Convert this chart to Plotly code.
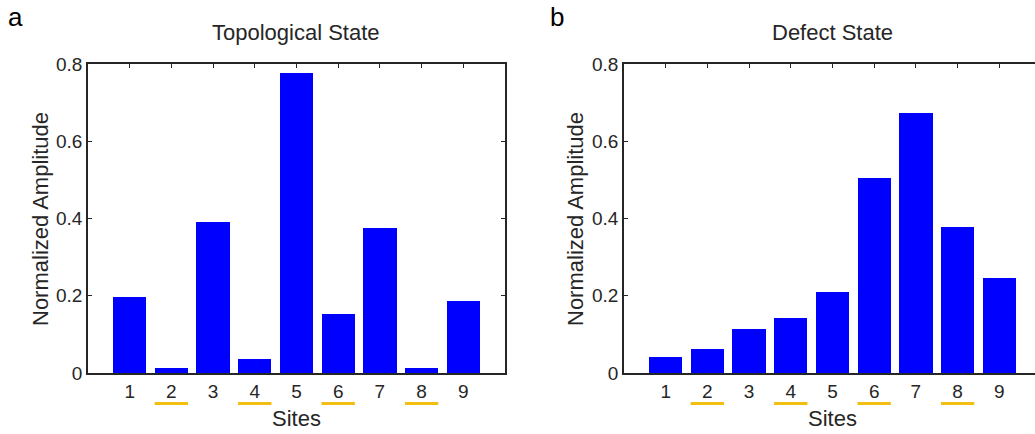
import plotly.graph_objects as go

# ---- data ----
sites = [1, 2, 3, 4, 5, 6, 7, 8, 9]
site_labels = ["1", "2", "3", "4", "5", "6", "7", "8", "9"]
topological_amp = [0.197, 0.013, 0.392, 0.035, 0.778, 0.152, 0.375, 0.013, 0.187]
defect_amp = [0.041, 0.063, 0.113, 0.142, 0.211, 0.506, 0.673, 0.379, 0.247]
marked_sites = [2, 4, 6, 8]
y_ticks = [0, 0.2, 0.4, 0.6, 0.8]
y_tick_labels = ["0", "0.2", "0.4", "0.6", "0.8"]

W, H = 1035, 434
TXT = "#262626"
BLUE = "#0000FF"
GOLD = "#F3BE12"
FONT = "Liberation Sans, Arial, sans-serif"

def px_x(p):
    return p / W

def px_y(p):
    return 1 - p / H

fig = go.Figure()
fig.add_trace(go.Bar(x=sites, y=topological_amp, width=0.8, marker=dict(color=BLUE, line=dict(width=0)),
                     xaxis="x", yaxis="y", showlegend=False))
fig.add_trace(go.Bar(x=sites, y=defect_amp, width=0.8, marker=dict(color=BLUE, line=dict(width=0)),
                     xaxis="x2", yaxis="y2", showlegend=False))

ydom = [px_y(373), px_y(64)]
common_x = dict(tickmode="array", tickvals=sites, ticktext=site_labels, ticks="inside", ticklen=4,
                tickcolor=TXT, tickwidth=1.2, showline=True, linecolor=TXT, linewidth=1.5,
                showgrid=False, zeroline=False, layer="below traces", automargin=False,
                tickfont=dict(family=FONT, size=19, color=TXT))
common_y = dict(tickmode="array", tickvals=y_ticks, ticktext=y_tick_labels, ticks="inside", ticklen=4,
                tickcolor=TXT, tickwidth=1.2, showline=True, linecolor=TXT, linewidth=1.5,
                showgrid=False, zeroline=False, range=[0, 0.8], domain=ydom, automargin=False,
                tickfont=dict(family=FONT, size=19, color=TXT))

fig.update_layout(
    width=W, height=H, autosize=False,
    margin=dict(l=0, r=0, t=0, b=0, pad=0, autoexpand=False),
    paper_bgcolor="white", plot_bgcolor="white",
    bargap=0,
    xaxis=dict(common_x, domain=[px_x(88), px_x(505)], range=[0, 10], mirror="ticks", anchor="y"),
    yaxis=dict(common_y, mirror="ticks", anchor="x"),
    xaxis2=dict(common_x, domain=[px_x(624), 1.0], range=[0, (1035 - 624) / 41.7], mirror="ticks", anchor="y2"),
    yaxis2=dict(common_y, mirror=False, anchor="x2"),
)

shapes = []
for xa in ["x", "x2"]:
    for s in marked_sites:
        shapes.append(dict(type="line", xref=xa, yref="paper", x0=s - 0.4, x1=s + 0.4,
                           y0=px_y(403.5), y1=px_y(403.5), line=dict(color=GOLD, width=3)))
fig.update_layout(shapes=shapes)

ann = []
def text(s, x, y, size, color=TXT, angle=0, xanchor="center", yanchor="middle"):
    ann.append(dict(text=s, x=px_x(x), y=px_y(y), xref="paper", yref="paper", showarrow=False,
                    xanchor=xanchor, yanchor=yanchor, textangle=angle,
                    font=dict(family=FONT, size=size, color=color)))

text("a", 6, 0, 26, color="black", xanchor="left", yanchor="top")
text("b", 548, 0, 26, color="black", xanchor="left", yanchor="top")
text("Topological State", 296, 32, 22)
text("Defect State", 832, 32, 22)
text("Normalized Amplitude", 40, 219, 22, angle=-90)
text("Normalized Amplitude", 575, 219, 22, angle=-90)
text("Sites", 296, 418, 22)
text("Sites", 832, 418, 22)
fig.update_layout(annotations=ann)

fig.write_html("out.html", config={"displayModeBar": False},
               post_script="document.body.style.margin='0';document.body.style.overflow='hidden';")
